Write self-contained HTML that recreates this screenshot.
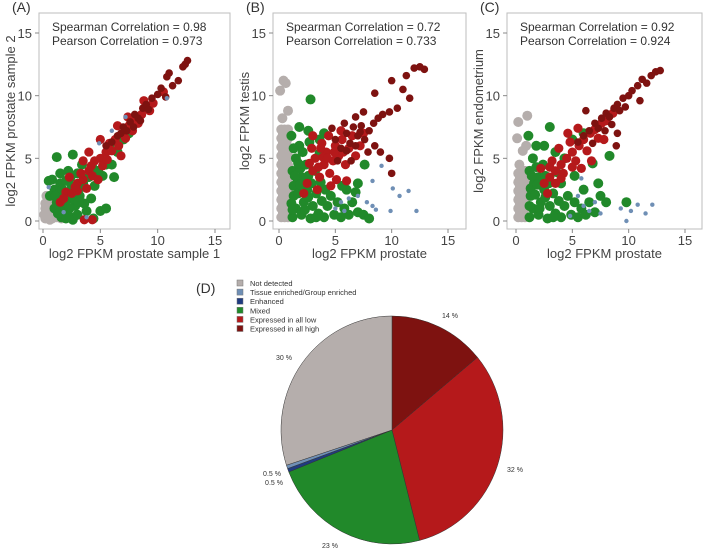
<!DOCTYPE html>
<html><head><meta charset="utf-8"><style>
body{margin:0;background:#fff;}
svg{display:block;font-family:"Liberation Sans",sans-serif;}
</style></head><body>
<svg id="chart" width="704" height="548" viewBox="0 0 704 548"></svg>
<script>
// ---------- Panel data ----------
const panelTitles = ["(A)","(B)","(C)"];
const yTitles = ["log2 FPKM prostate sample 2","log2 FPKM testis","log2 FPKM endometrium"];
const xTitles = ["log2 FPKM prostate sample 1","log2 FPKM prostate","log2 FPKM prostate"];
const spearman = ["0.98","0.72","0.92"];
const pearson = ["0.973","0.733","0.924"];
const tickValues = [0,5,10,15];

const aGray=[[0.2,0.2],[0.5,0.3],[0.8,0.2],[1.2,0.3],[0.3,0.8],[0.7,0.9],[1.0,0.6],[0.2,1.4],[0.5,1.6],[0.9,1.3],[1.4,0.9],[0.3,2.0],[1.6,0.2],[0.1,0.5],[0.6,0.1],[0.2,1.0],[0.6,1.2]];
const aGreen=[[1,2.5],[1.5,3],[2,3.2],[2.5,2.8],[1.2,1.5],[1.8,1.0],[2.2,0.5],[2.8,1.2],[3.2,2.0],[3.5,3],[3,3.8],[2.2,4.0],[1.5,3.8],[0.8,3.3],[0.6,2.0],[1,1],[1.6,0.3],[2.6,0.1],[3.8,0.8],[4.2,1.8],[4.5,2.8],[4.0,3.5],[4.8,4],[5.2,3.6],[5.5,4.5],[6,4.5],[6.5,5.5],[5.8,6],[3.4,4.5],[2.6,5.3],[1.2,5.1],[0.5,3.2],[2.0,2.0],[2.5,1.8],[3.0,0.5],[3.6,1.4],[4.4,0.2],[5,0.8],[5.5,1.0],[1.4,2.2],[2.4,3.5],[3.3,2.7],[4.3,4.3],[7,6.5],[7.5,7],[6.2,3.5],[2,0.2],[1.1,2.0],[1.7,2.5],[2.7,2.3],[3.1,1.5],[2.0,1.4],[1.3,0.6],[2.3,1.0]];
const aRed=[[1.5,1.5],[2,2.3],[2.5,2.2],[3,3],[3.5,3.3],[3,2.4],[4,4],[4.3,3.6],[4.5,4.8],[5,5],[5.2,4.4],[5.5,5.5],[5.8,6.2],[6,5.6],[6.3,6.5],[6.6,6],[7,7],[7.2,6.6],[7.5,7.6],[7.8,7.2],[8,8.1],[8.3,7.8],[8.6,8.5],[9,9],[9.3,8.8],[9.6,9.4],[4,5.5],[3.5,4.8],[5,6.5],[6.5,7.6],[4.8,3.3],[6.8,5.2],[2.3,3.5],[3.8,2.6],[7.4,8.3],[8.8,9.6],[10.5,10.3],[4.3,0.1],[3.6,0.1],[1.8,1.8],[2.8,2.7],[3.3,3.8],[4.2,4.4],[5.6,4.9]];
const aDark=[[5.5,6],[6,6.3],[6.5,6.8],[7,7.5],[7.3,7.2],[7.6,7.9],[8,8.5],[8.3,8.2],[8.7,9],[9,9.3],[9.2,8.9],[9.5,9.8],[10,10.1],[10.3,10.6],[10.8,11.5],[11,11.8],[11.3,10.8],[11.8,11.2],[12.2,12.3],[12.6,12.8],[12.4,12.5],[10.7,9.9],[6.8,7.0],[7.9,7.5],[8.5,8.0]];
const aBlue=[[4.9,6.2],[6,7.2],[7.2,8.3],[10.8,9.8],[0.5,2.7],[1.8,0.7],[3.8,0.3]];

const bGray=[[0.2,0.3],[0.5,0.3],[0.8,0.3],[0.2,1.0],[0.5,1.0],[0.8,1.0],[0.2,1.7],[0.5,1.7],[0.8,1.7],[0.2,2.4],[0.5,2.4],[0.8,2.4],[0.2,3.1],[0.5,3.1],[0.8,3.1],[0.2,3.8],[0.5,3.8],[0.8,3.8],[0.2,4.5],[0.5,4.5],[0.8,4.5],[0.2,5.2],[0.5,5.2],[0.8,5.2],[0.2,5.9],[0.5,5.9],[0.8,5.9],[0.2,6.6],[0.5,6.6],[0.8,6.6],[0.2,7.3],[0.5,7.3],[0.8,7.3],[0.3,8.2],[0.8,8.8],[0.4,11.2],[0.6,11],[0.1,10.4],[0.35,0.65],[0.65,0.65],[0.35,1.35],[0.65,1.35],[0.35,2.05],[0.65,2.05],[0.35,2.75],[0.65,2.75],[0.35,3.45],[0.65,3.45],[0.35,4.15],[0.65,4.15],[0.35,4.85],[0.65,4.85],[0.35,5.55],[0.65,5.55],[0.35,6.25],[0.65,6.25],[0.35,6.95],[0.65,6.95]];
const bGreen=[[1.2,0.3],[1.5,1],[1.3,2],[1.6,3],[1.2,4],[1.5,5],[1.8,6],[2,0.5],[2.2,1.5],[2.5,2.5],[2,3.5],[2.4,4.5],[2.1,5.5],[2.8,0.2],[3,1.2],[3.3,2.2],[2.9,3],[3.2,4],[2.7,6.3],[3.5,0.6],[3.8,1.6],[4,0.3],[4.3,1.2],[4.6,2],[4.9,0.5],[5.2,1.5],[5.5,0.3],[5.8,1],[6.2,0.5],[6.5,1.5],[7,0.7],[7.5,0.5],[8,0.2],[6,2.5],[7,3],[5.6,2.8],[1.1,6.8],[2.6,7.2],[2.8,9.7],[4,7],[3.6,6.5],[1.8,7.5],[7.6,4.5],[6.8,2.3],[1.3,2.8],[1.9,4.2],[2.3,0.9],[3.7,3.1],[4.1,2.5],[1.1,1.4],[1.2,0.9],[1.7,2.2],[1.4,3.6],[1.7,4.6],[1.3,5.8],[2.6,1.9],[3.3,0.3],[2.6,3.6],[1.9,2.9],[3.6,5.4]];
const bRed=[[2.5,3],[3,4],[3.2,5],[3.6,3.5],[4,4.5],[4.2,5.5],[4.5,3.8],[4.8,4.8],[5,6],[5.3,5.2],[5.6,6.5],[5.9,4.5],[6.2,5.8],[6.5,6.8],[3.8,6.2],[2.9,5.8],[4.4,6.8],[5.1,3.3],[6.8,5.2],[7.2,6],[3.4,2.5],[4.6,2.8],[2.2,2.2],[3,6.8],[5.5,7.2],[6,3.2],[7.5,7],[4.9,5.5],[3.9,5.1],[2.7,4.6],[3.5,4.3],[4.3,5.0],[5.7,5.5],[3.7,5.8]];
const bDark=[[5,6.5],[5.5,5.8],[6,7],[6.3,6.2],[6.6,7.5],[7,6.8],[7.3,7.6],[7.6,6.5],[8,7.2],[8.4,7.8],[8.8,8.2],[9.2,8.5],[9.8,8.7],[6.8,8.3],[5.8,7.8],[7.9,5.5],[8.5,6],[9,5.5],[10,11.2],[11,10.5],[11.3,11.6],[11.6,9.8],[12,12.2],[12.5,12.3],[12.9,12.1],[8.5,10.2],[9.8,5],[10,3.8],[5.2,4.8],[6.4,4.8],[4.7,7.4],[7.5,8.7],[10.5,9.0],[6.0,5.6],[7.2,7.1],[6.8,6.0]];
const bBlue=[[5,1],[5.5,1.5],[5.8,0.8],[6.2,1.8],[7,2],[7.8,1.5],[8.3,1.2],[8.6,0.9],[9.9,0.8],[10.1,2.6],[10.7,2],[11.5,2.4],[12.2,0.8],[9.1,4.4],[8.3,3.2]];

const cGray=[[0.2,0.3],[0.5,0.3],[0.8,0.3],[0.2,1.0],[0.5,1.0],[0.8,1.0],[0.2,1.7],[0.5,1.7],[0.8,1.7],[0.2,2.4],[0.5,2.4],[0.8,2.4],[0.2,3.1],[0.5,3.1],[0.8,3.1],[0.2,3.8],[0.5,3.8],[0.8,4.0],[0.3,4.5],[0.6,5.6],[0.9,6.0],[0.1,6.6],[0.2,7.9],[1.0,8.4],[0.35,0.65],[0.65,0.65],[0.35,1.35],[0.65,1.35],[0.35,2.05],[0.65,2.05],[0.35,2.75],[0.65,2.75],[0.35,3.45],[0.65,3.45]];
const cGreen=[[1.2,0.3],[1.5,1],[1.3,2],[1.6,3],[1.2,4],[1.5,5],[2,0.5],[2.2,1.5],[2.5,2.5],[2,3.5],[2.4,4.5],[2.8,0.2],[3,1.2],[3.3,2.2],[2.9,3],[3.5,0.6],[3.8,1.6],[4,0.3],[4.3,1.2],[4.6,2],[4.9,0.5],[5.2,1.5],[5.5,0.3],[5.8,1],[6.2,0.5],[6.5,1.5],[7,0.7],[7.5,2],[8,1.5],[3.5,5.5],[2.5,6],[3,7.5],[4.3,5],[5,6.5],[6,7],[6.8,4.6],[1.1,6.8],[1.8,6],[4,3],[5.2,3.6],[6,2.5],[7.3,3],[9.8,1.5],[1.3,2.6],[2.1,1.0],[3.6,3.9],[8.3,5.2],[1.2,1.2],[1.7,2.1],[1.4,3.6],[2.6,1.9],[3.3,0.3],[2.6,3.6],[1.9,2.9],[1.8,4.3]];
const cRed=[[2.5,3],[3,3.5],[3.5,4],[3.2,4.8],[4,4.5],[4.5,5],[4.2,3.8],[5,5.5],[5.3,4.8],[5.6,6],[6,6.5],[6.3,5.6],[6.6,7],[7,7.3],[7.3,6.6],[7.6,7.8],[8,8],[4.8,6.3],[3.8,5.8],[5.8,4.2],[2.8,2.2],[3.5,3.0],[6.7,4.8],[7.8,6.5],[8.6,8.6],[4.6,7],[2.2,4.2],[5.5,7.4],[3.0,4.3],[4.0,3.4],[5.0,4.3]];
const cDark=[[5.5,6.3],[6,6.8],[6.5,7.2],[7,7.8],[7.3,7.4],[7.6,8.2],[8,8.6],[8.3,8.3],[8.7,9],[9,9.3],[9.2,8.8],[9.5,9.8],[10,10],[10.3,10.4],[10.8,10.8],[11.2,11.3],[11.6,11],[12,11.6],[12.4,11.9],[12.8,12],[6.8,6.2],[7.9,7.2],[8.5,7.7],[9.7,9.1],[6.2,8.8],[9,7],[8.9,6.0],[11,9.6]];
const cBlue=[[5.5,2],[6,1.2],[6.5,0.8],[7,1.5],[7.5,0.6],[5.8,3.4],[9.3,1],[10.2,0.8],[10.8,1.3],[11.5,0.6],[12.1,1.3],[9.8,0],[4.8,0.4]];

// ---------- Pie data ----------
const pieCategories = ["Not detected","Tissue enriched/Group enriched","Enhanced","Mixed","Expressed in all low","Expressed in all high"];
const piePercents = [30,0.5,0.5,23,32,14];
const pieLabels = ["30 %","0.5 %","0.5 %","23 %","32 %","14 %"];
</script>
<script>
const NS="http://www.w3.org/2000/svg";
const svg=document.getElementById('chart');
function mk(tag,attrs,parent){const e=document.createElementNS(NS,tag);for(const k in attrs)e.setAttribute(k,attrs[k]);(parent||svg).appendChild(e);return e;}
const colors={gray:"#b5aeac",tissue:"#6f8fb5",enh:"#1f3b80",green:"#21892a",red:"#b5191b",dark:"#7e1210"};
const radii={gray:5,green:5,red:4.6,dark:3.8,tissue:2.2};
const panels=[
 {box:[39,13,230,229],x0:43,x15:215,sets:[["gray",aGray],["green",aGreen],["red",aRed],["dark",aDark],["tissue",aBlue]]},
 {box:[273,13,466,229],x0:279,x15:448,sets:[["gray",bGray],["green",bGreen],["red",bRed],["dark",bDark],["tissue",bBlue]]},
 {box:[507,13,702,229],x0:516,x15:685,sets:[["gray",cGray],["green",cGreen],["red",cRed],["dark",cDark],["tissue",cBlue]]}
];
const y0=221,y15=33;
panels.forEach((p,i)=>{
  const g=mk('g',{});
  
  
  const xs=v=>p.x0+(p.x15-p.x0)*v/15, ys=v=>y0+(y15-y0)*v/15;
  const [l,t,r,b]=p.box;
  const clip=mk('clipPath',{id:'clip'+i},g);
  mk('rect',{x:l,y:t,width:r-l,height:b-t},clip);
  const frame=mk('rect',{x:l,y:t,width:r-l,height:b-t,fill:"none",stroke:"#bdbdbd","stroke-width":1},g);
  
  
  const pts=mk('g',{"clip-path":`url(#clip${i})`},g);
  
  
  p.sets.forEach(([c,arr])=>{
    arr.forEach(d=>{
      const pt=mk('circle',{cx:xs(d[0]),cy:ys(d[1]),r:radii[c],fill:colors[c]},pts);
      
      
    });
  });
  tickValues.forEach(v=>{
    mk('line',{x1:xs(v),x2:xs(v),y1:b,y2:b+4,stroke:"#888"},g);
    const tx=mk('text',{x:xs(v),y:b+16,"text-anchor":"middle","font-size":13,fill:"#444"},g);
    tx.textContent=v;
    
    
    mk('line',{x1:l-4,x2:l,y1:ys(v),y2:ys(v),stroke:"#888"},g);
    const ty=mk('text',{x:l-7,y:ys(v)+5,"text-anchor":"end","font-size":13,fill:"#444"},g);
    ty.textContent=v;
    
    
  });
  const xt=mk('text',{x:(l+r)/2,y:258,"text-anchor":"middle","font-size":13,fill:"#444"},g);
  xt.textContent=xTitles[i];
  
  
  const yt=mk('text',{x:0,y:0,transform:`translate(${l-24},${(t+b)/2}) rotate(-90)`,"text-anchor":"middle","font-size":13,fill:"#444"},g);
  yt.textContent=yTitles[i];
  
  
  const pl=mk('text',{x:l-27,y:12,"font-size":14,fill:"#333"},g);
  pl.textContent=panelTitles[i];
  
  
  const s1=mk('text',{x:l+13,y:31,"font-size":12,fill:"#333"},g);
  s1.textContent="Spearman Correlation = "+spearman[i];
  
  
  const s2=mk('text',{x:l+13,y:45,"font-size":12,fill:"#333"},g);
  s2.textContent="Pearson Correlation = "+pearson[i];
  
  
});

// Pie
const pieColors=[colors.gray,colors.tissue,colors.enh,colors.green,colors.red,colors.dark];
const cx=392,cy=430,rx=111,ry=114;
const pg=mk('g',{});


const dl=mk('text',{x:196,y:293,"font-size":14,fill:"#333"});
dl.textContent="(D)";


const order=[5,4,3,2,1,0];
const total=piePercents.reduce((a,b)=>a+b,0);
let acc=0;
const labelPos=[[284,360],[272,476],[274,485],[330,548],[515,472],[450,318]];
order.forEach(idx=>{
  const a0=acc/total*2*Math.PI; acc+=piePercents[idx]; const a1=acc/total*2*Math.PI;
  const P=a=>[cx+rx*Math.sin(a),cy-ry*Math.cos(a)];
  const [x0,yy0]=P(a0),[x1,yy1]=P(a1);
  const large=(a1-a0)>Math.PI?1:0;
  const s=mk('path',{d:`M${cx},${cy}L${x0},${yy0}A${rx},${ry} 0 ${large} 1 ${x1},${yy1}Z`,fill:pieColors[idx],stroke:"#333","stroke-width":0.5},pg);
  
  
  const lb=mk('text',{x:labelPos[idx][0],y:labelPos[idx][1],"font-size":7,"text-anchor":"middle",fill:"#333"},pg);
  lb.textContent=pieLabels[idx];
  
  
});
const lg=mk('g',{});


pieCategories.forEach((c,i)=>{
  const y=283+i*9.1;
  const sq=mk('rect',{x:237,y:y-3,width:6,height:6,fill:pieColors[i],stroke:"#777","stroke-width":0.5},lg);
  
  
  const t=mk('text',{x:250,y:y+3,"font-size":7.5,fill:"#333"},lg);
  t.textContent=c;
  
  
});
</script>
</body></html>
